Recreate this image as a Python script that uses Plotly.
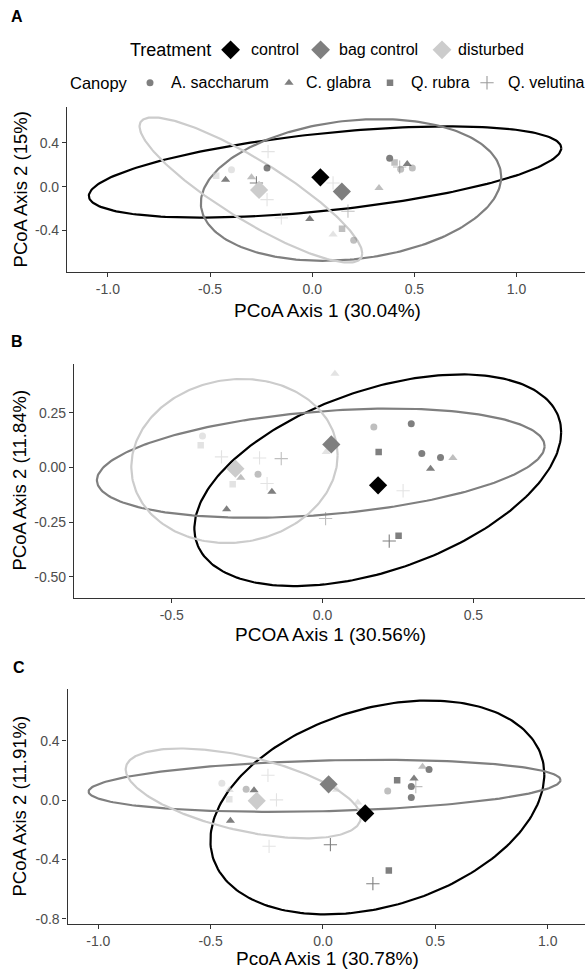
import numpy as np
import plotly.graph_objects as go

W, H = 588, 977
FONT = "Liberation Sans, Arial, sans-serif"

treat_codes = ["c", "b", "d"]
treat_names = ["control", "bag control", "disturbed"]
treat_solid = {"c": "#000000", "b": "#7f7f7f", "d": "#cccccc"}
treat_alpha = {"c": "rgba(0,0,0,0.5)", "b": "rgba(127,127,127,0.5)", "d": "rgba(204,204,204,0.55)"}
canopy_codes = ["as", "cg", "qr", "qv"]
canopy_names = ["A. saccharum", "C. glabra", "Q. rubra", "Q. velutina"]

# ---------------- Panel A data ----------------
A_x = [-0.221, -0.395, -0.424, -0.297, -0.273, -0.216, -0.221, -0.151, -0.012, 0.102, 0.175,
       0.327, 0.102, 0.146, 0.203, 0.379, 0.403, 0.428, 0.433, 0.465, 0.49, -0.47]
A_y = [0.17, 0.155, 0.064, 0.085, 0.034, 0.32, -0.118, -0.285, -0.294, 0.034, -0.224,
       -0.012, -0.436, -0.385, -0.488, 0.26, 0.22, 0.179, 0.16, 0.206, 0.17, 0.10]
A_canopy = ["as", "as", "cg", "cg", "qv", "qv", "qv", "qv", "cg", "qv", "qv",
            "cg", "cg", "qr", "as", "as", "qr", "qv", "as", "cg", "as", "qr"]
A_treat = ["c", "d", "c", "b", "c", "d", "d", "d", "c", "d", "b",
           "b", "d", "b", "b", "c", "b", "b", "b", "c", "b", "d"]
A_cent_x = [0.04, 0.145, -0.26]
A_cent_y = [0.085, -0.045, -0.03]
# ellipse parameters per treatment: centre x, centre y, u_x, u_y, v_y
A_ell = [[0.063, 0.134, 1.156, 0.218, 0.355],
         [0.19, -0.03, 0.735, 0.12, 0.635],
         [-0.30, -0.03, 0.545, -0.58, 0.32]]

# ---------------- Panel B data ----------------
B_x = [0.041, -0.398, -0.404, -0.335, -0.209, -0.137, -0.271, -0.298, -0.214, -0.184, -0.168, -0.318,
       0.012, 0.01, 0.17, 0.294, 0.186, 0.329, 0.391, 0.432, 0.358, 0.267, 0.252, 0.221]
B_y = [0.429, 0.144, 0.102, 0.049, 0.044, 0.041, -0.046, -0.076, -0.03, -0.073, -0.111, -0.191,
       0.071, -0.233, 0.185, 0.2, 0.071, 0.064, 0.046, 0.044, -0.005, -0.106, -0.312, -0.336]
B_canopy = ["cg", "as", "qr", "qv", "qv", "qv", "cg", "qr", "as", "qv", "cg", "cg",
            "cg", "qv", "as", "as", "qr", "as", "as", "cg", "cg", "qv", "qr", "qv"]
B_treat = ["d", "d", "d", "d", "d", "b", "b", "d", "b", "d", "c", "c",
           "d", "b", "b", "c", "c", "c", "c", "b", "c", "d", "c", "c"]
B_cent_x = [0.184, 0.029, -0.289]
B_cent_y = [-0.081, 0.106, -0.005]
B_ell = [[0.183, -0.058, 0.608, 0.22, 0.431],
         [-0.006, 0.02, 0.742, 0.078, 0.237],
         [-0.292, 0.03, 0.342, 0.027, 0.374]]

# ---------------- Panel C data ----------------
C_x = [-0.45, -0.417, -0.417, -0.342, -0.307, -0.412, -0.245, -0.207, -0.24, 0.033, 0.155,
       0.06, 0.443, 0.472, 0.33, 0.405, 0.393, 0.413, 0.393, 0.288, 0.293, 0.222]
C_y = [0.114, 0.007, 0.069, 0.074, 0.067, -0.139, 0.168, 0.002, -0.311, -0.3, -0.016,
       0.07, 0.226, 0.208, 0.134, 0.147, 0.092, 0.092, 0.018, 0.063, -0.474, -0.563]
C_canopy = ["as", "qr", "cg", "as", "cg", "cg", "qv", "qv", "qv", "qv", "cg",
            "cg", "cg", "as", "qr", "cg", "as", "qv", "as", "as", "qr", "qv"]
C_treat = ["d", "d", "d", "b", "c", "c", "d", "d", "d", "c", "d",
           "d", "b", "c", "c", "c", "c", "b", "c", "b", "c", "c"]
C_cent_x = [0.188, 0.025, -0.295]
C_cent_y = [-0.089, 0.107, -0.004]
C_ell = [[0.242, -0.049, 0.743, 0.223, 0.686],
         [0.007, 0.097, 1.05, 0.039, 0.171],
         [-0.355, 0.046, 0.523, -0.162, 0.256]]

# axis ranges / ticks
A_xrange, A_yrange = [-1.2, 1.335], [-0.78, 0.73]
B_xrange, B_yrange = [-0.824, 0.87], [-0.597, 0.474]
C_xrange, C_yrange = [-1.137, 1.166], [-0.836, 0.751]
A_xticks = [-1.0, -0.5, 0.0, 0.5, 1.0]; A_xlabels = ["-1.0", "-0.5", "0.0", "0.5", "1.0"]
A_yticks = [-0.4, 0.0, 0.4]; A_ylabels = ["-0.4", "0.0", "0.4"]
B_xticks = [-0.5, 0.0, 0.5]; B_xlabels = ["-0.5", "0.0", "0.5"]
B_yticks = [-0.5, -0.25, 0.0, 0.25]; B_ylabels = ["-0.50", "-0.25", "0.00", "0.25"]
C_xticks = [-1.0, -0.5, 0.0, 0.5, 1.0]; C_xlabels = ["-1.0", "-0.5", "0.0", "0.5", "1.0"]
C_yticks = [-0.8, -0.4, 0.0, 0.4]; C_ylabels = ["-0.8", "-0.4", "0.0", "0.4"]

# pixel boxes of the three panels (left, right, top, bottom)
boxes = [(67, 585, 107, 273), (74, 585, 365, 600), (67.5, 585, 691, 927)]

symbols = {"as": "circle", "cg": "triangle-up", "qr": "square", "qv": "cross-thin"}
sizes = {"as": 7, "cg": 8, "qr": 6.5, "qv": 9.5}

fig = go.Figure()

panels = [
    (A_x, A_y, A_canopy, A_treat, A_cent_x, A_cent_y, A_ell),
    (B_x, B_y, B_canopy, B_treat, B_cent_x, B_cent_y, B_ell),
    (C_x, C_y, C_canopy, C_treat, C_cent_x, C_cent_y, C_ell),
]

t = np.linspace(0, 2 * np.pi, 240)
for i, (px, py, pc, pt, cx, cy, ell) in enumerate(panels):
    xa = "x" if i == 0 else f"x{i+1}"
    ya = "y" if i == 0 else f"y{i+1}"
    # ellipses
    for k, code in enumerate(treat_codes):
        ecx, ecy, ux, uy, vy = ell[k]
        ex = ecx + ux * np.cos(t)
        ey = ecy + uy * np.cos(t) + vy * np.sin(t)
        fig.add_trace(go.Scatter(x=ex, y=ey, mode="lines", xaxis=xa, yaxis=ya,
                                 line=dict(color=treat_solid[code], width=2.2),
                                 showlegend=False, hoverinfo="skip"))
    # sample points
    for cc in canopy_codes:
        idx = [j for j in range(len(px)) if pc[j] == cc]
        cols = [treat_alpha[pt[j]] for j in idx]
        if cc == "qv":
            marker = dict(symbol=symbols[cc], size=sizes[cc], color=cols,
                          line=dict(color=cols, width=1.1))
        else:
            marker = dict(symbol=symbols[cc], size=sizes[cc], color=cols, line=dict(width=0))
        fig.add_trace(go.Scatter(x=[px[j] for j in idx], y=[py[j] for j in idx], mode="markers",
                                 xaxis=xa, yaxis=ya, marker=marker, showlegend=False))
    # centroids
    fig.add_trace(go.Scatter(x=cx, y=cy, mode="markers", xaxis=xa, yaxis=ya,
                             marker=dict(symbol="diamond", size=14,
                                         color=[treat_solid[c] for c in treat_codes],
                                         line=dict(width=0)),
                             showlegend=False))

axis_common = dict(showline=True, linecolor="#333333", linewidth=1.1, ticks="outside",
                   ticklen=4, tickwidth=1.1, tickcolor="#333333", showgrid=False,
                   zeroline=False, tickfont=dict(family=FONT, size=14, color="#4d4d4d"))

ranges = [(A_xrange, A_yrange, A_xticks, A_xlabels, A_yticks, A_ylabels),
          (B_xrange, B_yrange, B_xticks, B_xlabels, B_yticks, B_ylabels),
          (C_xrange, C_yrange, C_xticks, C_xlabels, C_yticks, C_ylabels)]
layout = {}
for i, (xr, yr, xt, xl, yt, yl) in enumerate(ranges):
    l, r, tp, bt = boxes[i]
    xn = "xaxis" if i == 0 else f"xaxis{i+1}"
    yn = "yaxis" if i == 0 else f"yaxis{i+1}"
    ya = "y" if i == 0 else f"y{i+1}"
    xa = "x" if i == 0 else f"x{i+1}"
    layout[xn] = dict(domain=[l / W, r / W], range=xr, tickvals=xt, ticktext=xl,
                      anchor=ya, **axis_common)
    layout[yn] = dict(domain=[1 - bt / H, 1 - tp / H], range=yr, tickvals=yt, ticktext=yl,
                      anchor=xa, **axis_common)

# overlay axis for legend keys (pixel coordinates)
layout["xaxis4"] = dict(domain=[0, 1], range=[0, W], visible=False, fixedrange=True, anchor="y4")
layout["yaxis4"] = dict(domain=[0, 1], range=[H, 0], visible=False, fixedrange=True, anchor="x4")

fig.update_layout(width=W, height=H, margin=dict(l=0, r=0, t=0, b=0),
                  paper_bgcolor="white", plot_bgcolor="rgba(0,0,0,0)", showlegend=False, **layout)

# legend keys
leg_tx = [230.6, 320.6, 442.0]
fig.add_trace(go.Scatter(x=leg_tx, y=[50, 50, 50], mode="markers", xaxis="x4", yaxis="y4",
                         marker=dict(symbol="diamond", size=14.5,
                                     color=[treat_solid[c] for c in treat_codes], line=dict(width=0)),
                         showlegend=False, hoverinfo="skip"))
leg_cx = [150, 289, 390, 487]
for k, cc in enumerate(canopy_codes):
    if cc == "qv":
        mk = dict(symbol=symbols[cc], size=sizes[cc], color="rgba(0,0,0,0.5)",
                  line=dict(color="rgba(0,0,0,0.4)", width=1.1))
    else:
        mk = dict(symbol=symbols[cc], size=sizes[cc], color="rgba(0,0,0,0.5)", line=dict(width=0))
    fig.add_trace(go.Scatter(x=[leg_cx[k]], y=[83], mode="markers", xaxis="x4", yaxis="y4",
                             marker=mk, showlegend=False, hoverinfo="skip"))

ann = []
def txt(x, y, s, size, anchor="left", bold=False, angle=0, color="#000000"):
    ann.append(dict(x=x / W, y=1 - y / H, xref="paper", yref="paper", text=("<b>%s</b>" % s) if bold else s,
                    showarrow=False, xanchor=anchor, yanchor="middle", textangle=angle,
                    font=dict(family=FONT, size=size, color=color)))

txt(127.5, 50, "Treatment", 18)
txt(249, 50, treat_names[0], 16)
txt(337, 50, treat_names[1], 16)
txt(455.6, 50, treat_names[2], 16)
txt(67.5, 83, "Canopy", 16.5)
for k, xx in enumerate([169, 304, 409, 506]):
    txt(xx, 83, canopy_names[k], 16)

txt(17, 17, "A", 16, anchor="center", bold=True)
txt(17, 343, "B", 16, anchor="center", bold=True)
txt(18.5, 670, "C", 16, anchor="center", bold=True)

txt(327, 311, "PCoA Axis 1 (30.04%)", 19, anchor="center")
txt(330, 636, "PCOA Axis 1 (30.56%)", 19, anchor="center")
txt(327, 961, "PcoA Axis 1 (30.78%)", 19, anchor="center")
txt(20, 190, "PCoA Axis 2 (15%)", 18.5, anchor="center", angle=-90)
txt(20, 482, "PCoA Axis 2 (11.84%)", 18.5, anchor="center", angle=-90)
txt(20, 809, "PCoA Axis 2 (11.91%)", 18.5, anchor="center", angle=-90)
fig.update_layout(annotations=ann)

fig.write_html("out.html")
